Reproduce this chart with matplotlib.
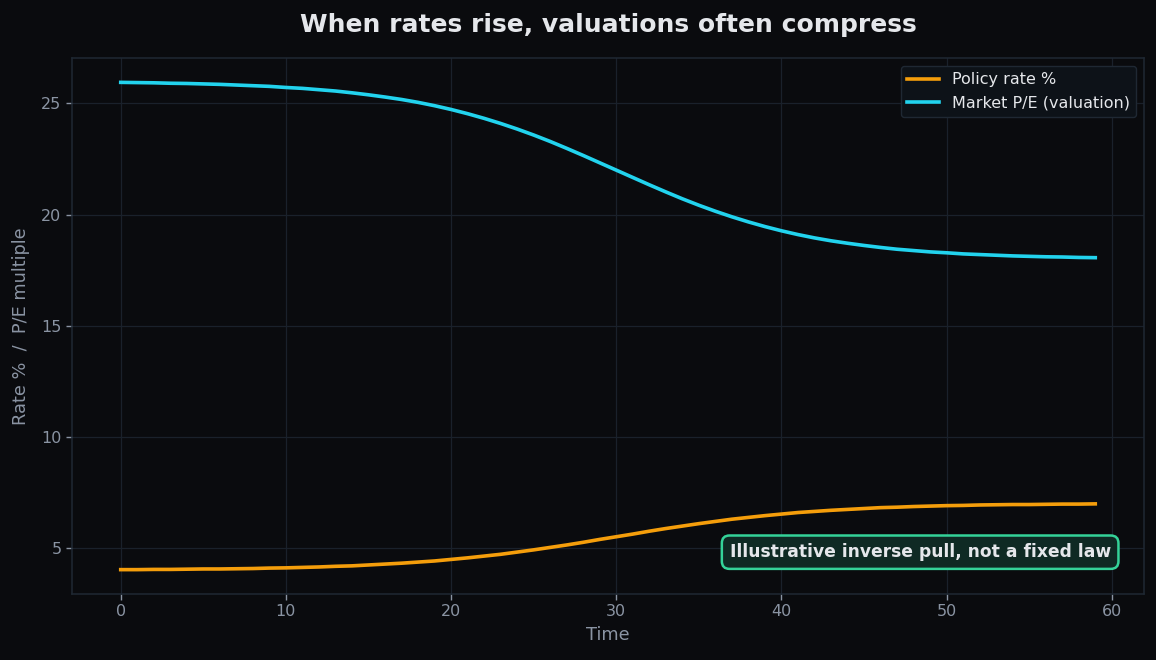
import matplotlib
matplotlib.use("Agg")
import matplotlib.pyplot as plt
import numpy as np

time = list(range(60))
policy_rate = [4.02, 4.02, 4.03, 4.03, 4.04, 4.05, 4.05, 4.06, 4.07, 4.09,
               4.10, 4.12, 4.14, 4.17, 4.19, 4.23, 4.27, 4.31, 4.36, 4.41,
               4.48, 4.55, 4.63, 4.71, 4.81, 4.91, 5.02, 5.13, 5.25, 5.38,
               5.50, 5.62, 5.75, 5.87, 5.98, 6.09, 6.19, 6.29, 6.37, 6.45,
               6.52, 6.59, 6.64, 6.69, 6.73, 6.77, 6.81, 6.83, 6.86, 6.88,
               6.90, 6.91, 6.93, 6.94, 6.95, 6.95, 6.96, 6.97, 6.97, 6.98]
market_pe = [25.95, 25.94, 25.93, 25.91, 25.90, 25.88, 25.86, 25.83, 25.80, 25.77,
             25.72, 25.68, 25.62, 25.56, 25.48, 25.39, 25.29, 25.18, 25.05, 24.90,
             24.73, 24.54, 24.33, 24.10, 23.85, 23.58, 23.29, 22.98, 22.66, 22.33,
             22.00, 21.67, 21.34, 21.02, 20.71, 20.42, 20.15, 19.90, 19.67, 19.46,
             19.27, 19.10, 18.95, 18.82, 18.71, 18.61, 18.52, 18.44, 18.38, 18.32,
             18.28, 18.23, 18.20, 18.17, 18.14, 18.12, 18.10, 18.09, 18.07, 18.06]

BG = "#0a0b0e"
fig = plt.figure(figsize=(11.56, 6.6), dpi=100, facecolor=BG)
ax = fig.add_axes([72/1156, (660-594)/660, 1072/1156, 536/660])
ax.set_facecolor("#0a0b0e")

ax.plot(time, policy_rate, color="#f59e0b", lw=2.6, label="Policy rate %")
ax.plot(time, market_pe, color="#22d3ee", lw=2.6, label="Market P/E (valuation)")

ax.grid(True, color="#1a212b", lw=0.9)
ax.set_axisbelow(True)
for s in ax.spines.values():
    s.set_color("#1f2833")
    s.set_linewidth(1.1)
ax.tick_params(colors="#8a94a3", labelsize=11.5, length=4, width=1.0)
ax.set_xlabel("Time", color="#8a94a3", fontsize=12.8, labelpad=5)
ax.set_ylabel("Rate %  /  P/E multiple", color="#8a94a3", fontsize=12.8, labelpad=8)
ax.set_title("When rates rise, valuations often compress", color="#e5e7eb",
             fontsize=18, fontweight="bold", pad=19)

leg = ax.legend(loc="upper right", facecolor="#0d1218", edgecolor="#1f2833",
                fontsize=11.5, framealpha=1.0)
for t in leg.get_texts():
    t.set_color("#e5e7eb")

ax.text(0.969, 0.078, "Illustrative inverse pull, not a fixed law",
        transform=ax.transAxes, ha="right", va="center", fontsize=12.3,
        fontweight="bold", color="#e5e7eb",
        bbox=dict(boxstyle="round,pad=0.45", facecolor="#0f2a24",
                  edgecolor="#34d399", lw=1.8))

fig.savefig("out.png", dpi=100, facecolor=BG)
